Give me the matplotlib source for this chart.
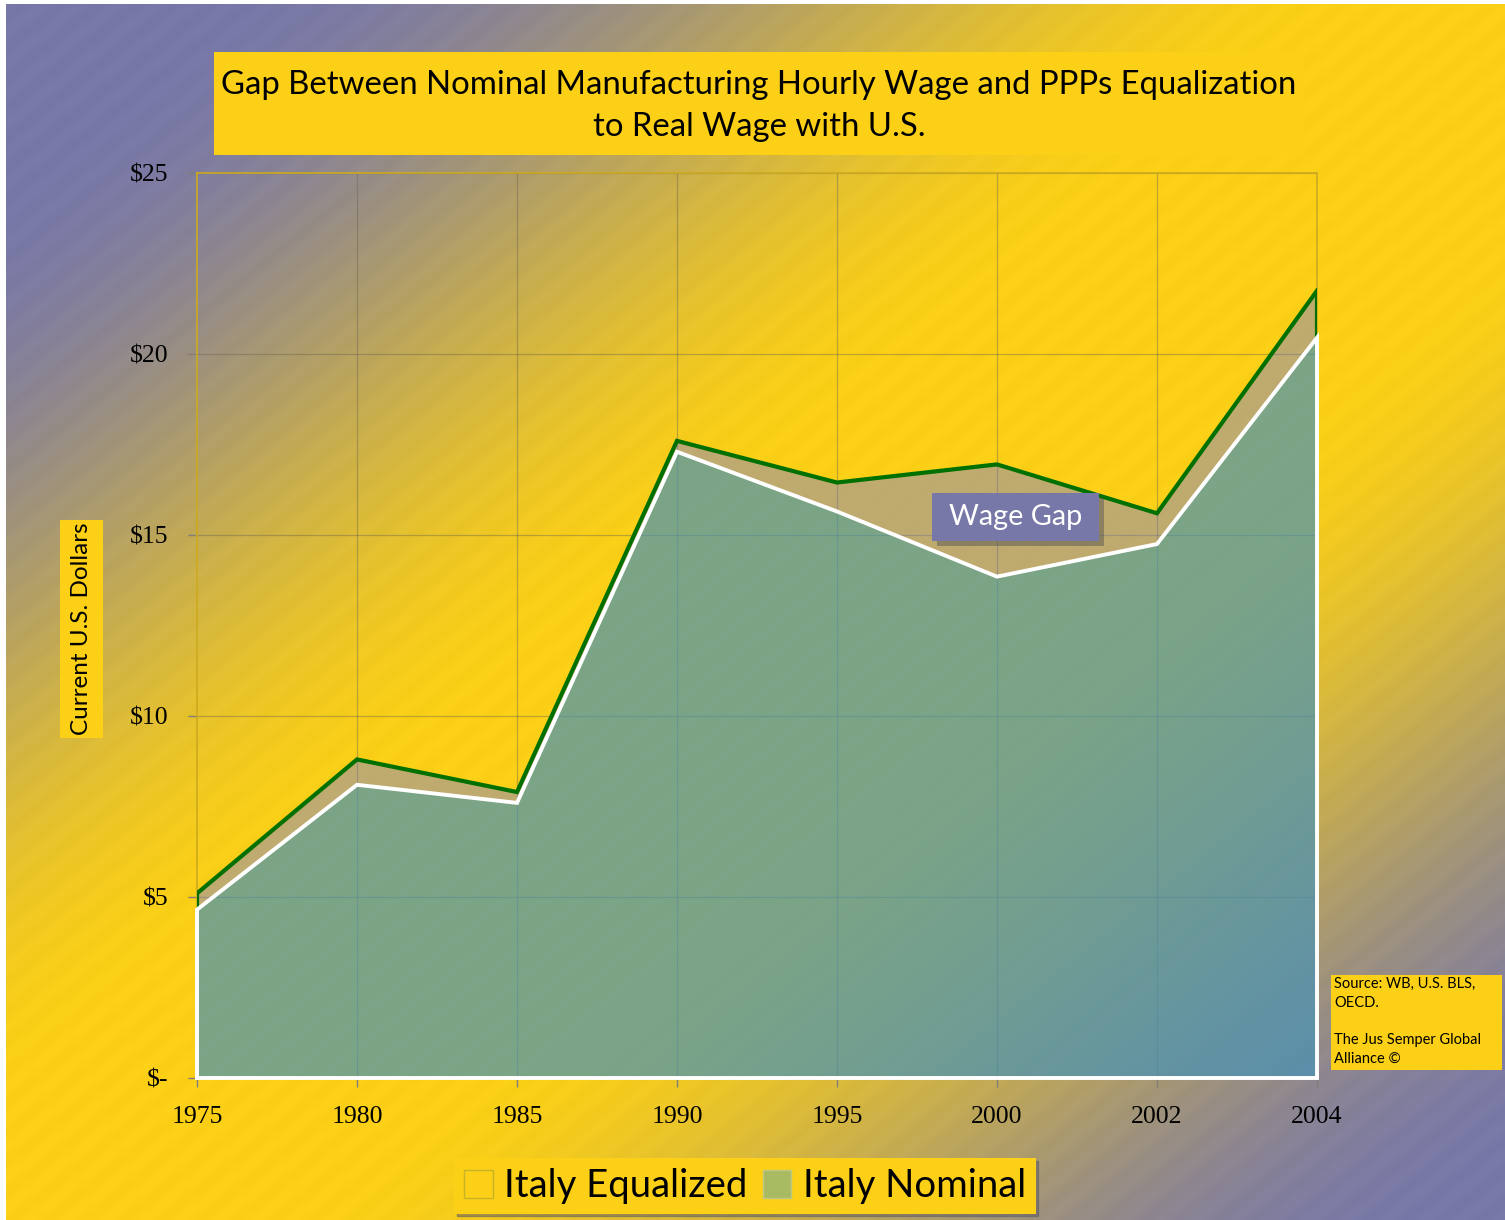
import numpy as np
import matplotlib
matplotlib.use("Agg")
import matplotlib.pyplot as plt
from matplotlib.patches import Rectangle, Patch

# ---------------- data ----------------
years = ["1975", "1980", "1985", "1990", "1995", "2000", "2002", "2004"]
italy_equalized = [5.1, 8.8, 7.9, 17.6, 16.45, 16.95, 15.6, 21.75]
italy_nominal = [4.65, 8.1, 7.6, 17.3, 15.65, 13.85, 14.75, 20.45]
y_ticks = [0, 5, 10, 15, 20, 25]
y_tick_labels = ["$-", "$5", "$10", "$15", "$20", "$25"]
title_text = "Gap Between Nominal Manufacturing Hourly Wage and PPPs Equalization\nto Real Wage with U.S."
ylabel_text = "Current U.S. Dollars"
source_text = "Source: WB, U.S. BLS,\nOECD.\n\nThe Jus Semper Global\nAlliance \u00a9"
gap_label = "Wage Gap"

W, H = 1505, 1220
def fx(px): return px / W
def fy(py): return 1 - py / H

def rgb(r, g, b): return (r / 255, g / 255, b / 255)

YELLOW = rgb(251, 208, 22)
PURPLE = rgb(120, 120, 168)
GREEN_LINE = rgb(0, 112, 0)
GOLD = rgb(205, 170, 30)

fig = plt.figure(figsize=(W / 100, H / 100), dpi=100, facecolor="white")

# ---------------- background gradient ----------------
bg = fig.add_axes([fx(6), 0, 1 - fx(6), 1 - 4 / H], zorder=0)
gx = np.linspace(6, W, 1499) / W
gy = np.linspace(4, H, 1216) / H
XX, YY = np.meshgrid(gx, gy)
t = (XX + YY) / 2
def smooth(a, b, v):
    s = np.clip((v - a) / (b - a), 0, 1)
    return s * s * (3 - 2 * s)
w = smooth(0.08, 0.45, t) * (1 - smooth(0.6, 0.98, t))
stripes = 0.006 * np.sin((XX * W + YY * H * 1.25) / 6.0)
p = np.array(PURPLE)
yv = np.array(YELLOW)
img = p[None, None, :] * (1 - w[..., None]) + yv[None, None, :] * w[..., None]
img = np.clip(img + stripes[..., None], 0, 1)
bg.imshow(img, aspect="auto", interpolation="bilinear", extent=[0, 1, 0, 1], origin="upper")
bg.set_axis_off()

# ---------------- title box ----------------
fig.patches.append(Rectangle((fx(214), fy(155)), fx(1303) - fx(214), fy(52) - fy(155),
                             transform=fig.transFigure, facecolor=YELLOW, edgecolor="none", zorder=1))
fig.text(fx(759), fy(106), title_text, ha="center", va="center", fontsize=23.7,
         family=["Lato", "DejaVu Sans"], color="black", linespacing=1.5, zorder=2)

# ---------------- main axes ----------------
ax = fig.add_axes([fx(197), fy(1078), fx(1317) - fx(197), fy(173) - fy(1078)], zorder=2)
ax.patch.set_alpha(0)
x = np.arange(len(years))
ax.set_xlim(0, len(years) - 1)
ax.set_ylim(0, 25)

for v in y_ticks[1:]:
    ax.axhline(v, color=rgb(100, 95, 80), alpha=0.4, lw=0.9, zorder=1)
for xi in x[1:-1]:
    ax.axvline(xi, color=rgb(100, 95, 80), alpha=0.4, lw=0.9, zorder=1)

# wage gap area
ax.fill_between(x, italy_nominal, italy_equalized, facecolor=rgb(110, 120, 235), alpha=0.42,
                edgecolor="none", zorder=2)
# nominal area
ax.fill_between(x, 0, italy_nominal, facecolor=rgb(70, 146, 182), alpha=0.7,
                edgecolor="none", zorder=3)
# equalized line
ax.plot(x, italy_equalized, color=GREEN_LINE, lw=3.0, zorder=5, solid_joinstyle="miter")
ax.vlines([x[0], x[-1]], [italy_nominal[0], italy_nominal[-1]],
          [italy_equalized[0], italy_equalized[-1]], color=GREEN_LINE, lw=3.0, zorder=5)
# nominal outline
ox = np.concatenate([[x[0]], x, [x[-1]], [x[0]]])
oy = np.concatenate([[0], italy_nominal, [0], [0]])
ax.plot(ox, oy, color="white", lw=2.8, zorder=6, clip_on=False, solid_joinstyle="miter")

for s in ax.spines.values():
    s.set_color(GOLD)
    s.set_linewidth(1.2)

ax.set_yticks(y_ticks)
ax.set_yticklabels(y_tick_labels)
ax.set_xticks(x)
ax.set_xticklabels(years)
ax.tick_params(axis="both", direction="out", length=6.5, width=1, color=rgb(130, 125, 120),
               labelsize=18.5, pad=14)
for lab in ax.get_xticklabels() + ax.get_yticklabels():
    lab.set_family(["Liberation Serif", "DejaVu Serif"])
    lab.set_color("black")

# wage gap label
fig.patches.append(Rectangle((fx(937), fy(546)), fx(1099) - fx(932), fy(493) - fy(541),
                             transform=fig.transFigure, facecolor=(0.3, 0.3, 0.3), alpha=0.45,
                             edgecolor="none", zorder=7))
fig.patches.append(Rectangle((fx(932), fy(541)), fx(1099) - fx(932), fy(493) - fy(541),
                             transform=fig.transFigure, facecolor=PURPLE, edgecolor="none", zorder=8))
fig.text(fx(1015.5), fy(517), gap_label, ha="center", va="center", fontsize=20.8,
         family=["Lato", "DejaVu Sans"], color="white", zorder=9)

# y label
fig.patches.append(Rectangle((fx(60), fy(738)), fx(103) - fx(60), fy(520) - fy(738),
                             transform=fig.transFigure, facecolor=YELLOW, edgecolor="none", zorder=1))
fig.text(fx(81.5), fy(629), ylabel_text, ha="center", va="center", rotation=90, fontsize=17.5,
         family=["Lato", "DejaVu Sans"], color="black", zorder=2)

# source box
fig.patches.append(Rectangle((fx(1331), fy(1070)), fx(1502) - fx(1331), fy(975) - fy(1070),
                             transform=fig.transFigure, facecolor=YELLOW, edgecolor="none", zorder=1))
fig.text(fx(1334), fy(977), source_text, ha="left", va="top", fontsize=10.5,
         family=["Lato", "DejaVu Sans"], color="black", linespacing=1.42, zorder=2)

# legend
handles = [Patch(facecolor=YELLOW, edgecolor=rgb(200, 178, 40), lw=1.0, label="Italy Equalized"),
           Patch(facecolor=rgb(168, 186, 98), edgecolor=rgb(190, 200, 130), lw=1.0, label="Italy Nominal")]
leg = fig.legend(handles=handles, loc="center", bbox_to_anchor=(fx(745), fy(1186)), ncol=2,
                 frameon=True, fancybox=False, shadow={"color": (0.35, 0.35, 0.4), "alpha": 0.5},
                 handlelength=0.75, handleheight=0.75, handletextpad=0.3, columnspacing=0.4,
                 borderpad=0.25, borderaxespad=0, prop={"family": ["Lato", "DejaVu Sans"], "size": 27.5})
leg.get_frame().set_facecolor(YELLOW)
leg.get_frame().set_edgecolor("none")
leg.get_frame().set_alpha(1)

fig.savefig("out.png", dpi=100, facecolor="white")
